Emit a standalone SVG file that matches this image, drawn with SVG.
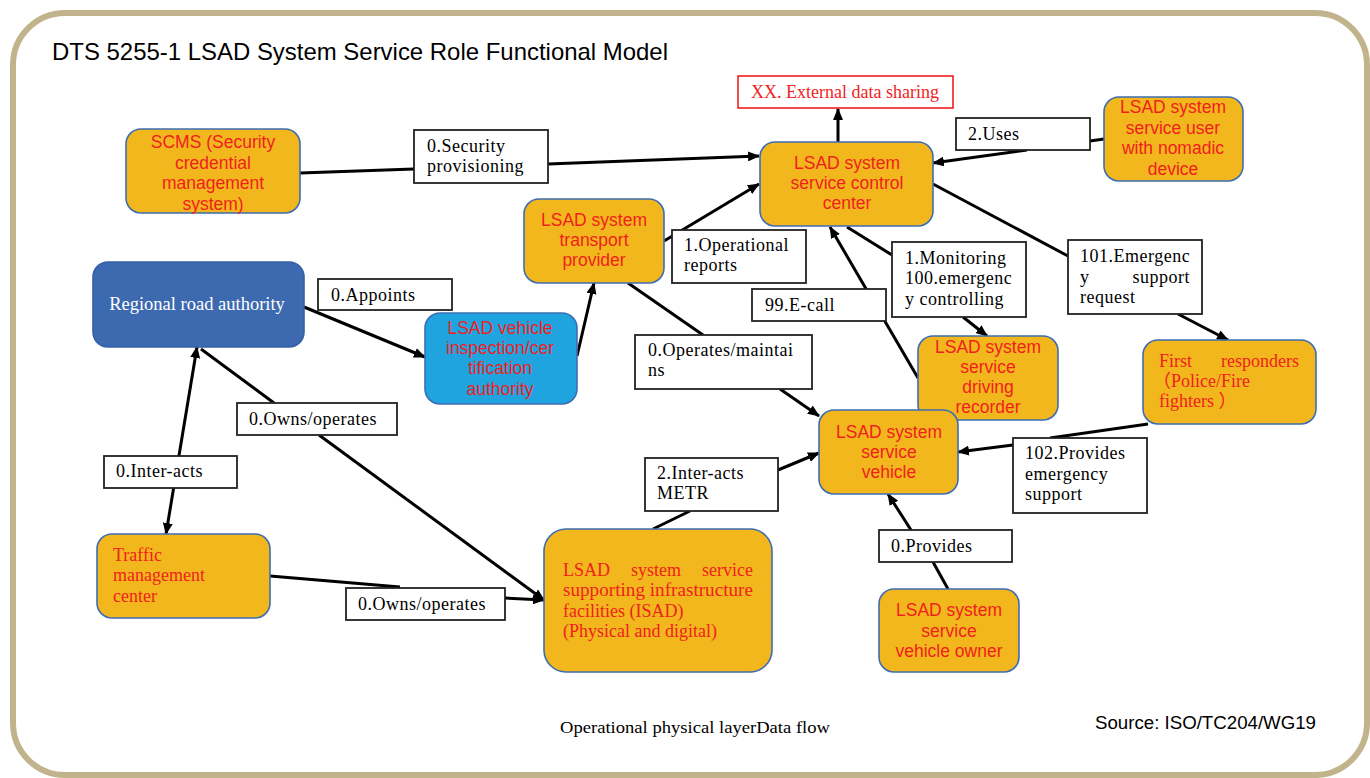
<svg xmlns="http://www.w3.org/2000/svg" width="1370" height="778" viewBox="0 0 1370 778">
<style>
.node{fill:#F2B71C;stroke:#3E6DB3;stroke-width:1.6}
.lbl{fill:#fff;stroke:#222;stroke-width:1.8}
.ln{stroke:#000;stroke-width:3;fill:none}
.s{font-family:"Liberation Sans",Arial,sans-serif;font-size:17.5px;fill:#F01E1E;text-anchor:middle}
.r{font-family:"Liberation Serif","Noto Sans CJK JP",serif;font-size:18px;fill:#F01E1E}
.t{font-family:"Liberation Serif",serif;font-size:18px;letter-spacing:0.5px;fill:#000}
</style>
<defs>
<marker id="arr" viewBox="0 0 12 10" refX="11" refY="5" markerWidth="12" markerHeight="10" orient="auto" markerUnits="userSpaceOnUse"><path d="M0,0 L12,5 L0,10 z" fill="#000"/></marker>
<marker id="arrs" viewBox="0 0 12 10" refX="1" refY="5" markerWidth="12" markerHeight="10" orient="auto" markerUnits="userSpaceOnUse"><path d="M12,0 L0,5 L12,10 z" fill="#000"/></marker>
</defs>
<rect x="0" y="0" width="1370" height="778" fill="#fff"/>
<rect id="frame" x="13" y="13" width="1354" height="762" rx="52" fill="#fff" stroke="#C1B38B" stroke-width="6"/>
<text x="52" y="60" font-family="Liberation Sans,Arial,sans-serif" font-size="24" textLength="616" lengthAdjust="spacingAndGlyphs" fill="#000">DTS 5255-1 LSAD System Service Role Functional Model</text>

<g id="connectors">
<line class="ln" x1="300" y1="173" x2="414" y2="169"/>
<line class="ln" x1="548" y1="164" x2="759" y2="156" marker-end="url(#arr)"/>
<line class="ln" x1="838" y1="142" x2="838" y2="109" marker-end="url(#arr)"/>
<line class="ln" x1="1104" y1="139" x2="1090" y2="141"/>
<line class="ln" x1="1027" y1="150" x2="933" y2="163" marker-end="url(#arr)"/>
<line class="ln" x1="664" y1="241" x2="759" y2="184" marker-end="url(#arr)"/>
<line class="ln" x1="628" y1="283" x2="703" y2="335"/>
<line class="ln" x1="780" y1="389" x2="819" y2="416" marker-end="url(#arr)"/>
<line class="ln" x1="847" y1="227" x2="892" y2="255"/>
<line class="ln" x1="963" y1="317" x2="987" y2="336" marker-end="url(#arr)"/>
<line class="ln" x1="933" y1="184" x2="1068" y2="256"/>
<line class="ln" x1="1178" y1="314" x2="1228" y2="340" marker-end="url(#arr)"/>
<line class="ln" x1="918" y1="378" x2="830" y2="227" marker-end="url(#arr)"/>
<line class="ln" x1="304" y1="307" x2="425" y2="357" marker-end="url(#arr)"/>
<line class="ln" x1="577" y1="356" x2="594" y2="283" marker-end="url(#arr)"/>
<line class="ln" x1="166" y1="534" x2="197" y2="347" marker-start="url(#arrs)" marker-end="url(#arr)"/>
<line class="ln" x1="201" y1="349" x2="274" y2="403"/>
<line class="ln" x1="319" y1="435" x2="544" y2="600" marker-end="url(#arr)"/>
<line class="ln" x1="270" y1="576" x2="400" y2="587"/>
<line class="ln" x1="505" y1="598" x2="544" y2="600" marker-end="url(#arr)"/>
<line class="ln" x1="653" y1="529" x2="690" y2="511"/>
<line class="ln" x1="778" y1="470" x2="819" y2="453" marker-end="url(#arr)"/>
<line class="ln" x1="1148" y1="424" x2="1050" y2="438"/>
<line class="ln" x1="1013" y1="445" x2="958" y2="452" marker-end="url(#arr)"/>
<line class="ln" x1="948" y1="589" x2="933" y2="562"/>
<line class="ln" x1="911" y1="530" x2="888" y2="494" marker-end="url(#arr)"/>

<g id="lbl-security"><rect class="lbl" x="414" y="130" width="134" height="53"/><text class="t" x="427" y="152">0.Security</text><text class="t" x="427" y="172">provisioning</text></g>
<g id="lbl-uses"><rect class="lbl" x="956" y="118" width="134" height="32"/><text class="t" x="968" y="140">2.Uses</text></g>
<g id="lbl-opreports"><rect class="lbl" x="672" y="230" width="134" height="53"/><text class="t" x="684" y="251">1.Operational</text><text class="t" x="684" y="271">reports</text></g>
<g id="lbl-monitoring"><rect class="lbl" x="892" y="242" width="134" height="75"/><text class="t" x="905" y="264">1.Monitoring</text><text class="t" x="905" y="284">100.emergenc</text><text class="t" x="905" y="305">y controlling</text></g>
<g id="lbl-emergency"><rect class="lbl" x="1068" y="240" width="134" height="74"/><text class="t" x="1080" y="262">101.Emergenc</text><text class="t" x="1080" y="283">y</text><text class="t" x="1190" y="283" text-anchor="end">support</text><text class="t" x="1080" y="303">request</text></g>
<g id="lbl-ecall"><rect class="lbl" x="752" y="289" width="134" height="32"/><text class="t" x="765" y="311">99.E-call</text></g>
<g id="lbl-appoints"><rect class="lbl" x="318" y="279" width="134" height="31"/><text class="t" x="331" y="301">0.Appoints</text></g>
<g id="lbl-operates"><rect class="lbl" x="635" y="335" width="177" height="54"/><text class="t" x="648" y="356">0.Operates/maintai</text><text class="t" x="648" y="376">ns</text></g>
<g id="lbl-owns1"><rect class="lbl" x="237" y="403" width="160" height="32"/><text class="t" x="249" y="425">0.Owns/operates</text></g>
<g id="lbl-interacts"><rect class="lbl" x="104" y="456" width="133" height="32"/><text class="t" x="116" y="477">0.Inter-acts</text></g>
<g id="lbl-metr"><rect class="lbl" x="645" y="458" width="133" height="53"/><text class="t" x="657" y="479">2.Inter-acts</text><text class="t" x="657" y="499">METR</text></g>
<g id="lbl-provides-emerg"><rect class="lbl" x="1013" y="438" width="134" height="75"/><text class="t" x="1025" y="459">102.Provides</text><text class="t" x="1025" y="480">emergency</text><text class="t" x="1025" y="500">support</text></g>
<g id="lbl-provides"><rect class="lbl" x="879" y="530" width="133" height="32"/><text class="t" x="891" y="552">0.Provides</text></g>
<g id="lbl-owns2"><rect class="lbl" x="346" y="588" width="159" height="32"/><text class="t" x="358" y="610">0.Owns/operates</text></g>
</g>

<g id="n-external"><rect x="738" y="76" width="215" height="32" fill="#fff" stroke="#F01E1E" stroke-width="1.6"/><text class="r" x="845" y="98" text-anchor="middle">XX. External data sharing</text></g>
<g id="n-scms"><rect class="node" x="126" y="129" width="174" height="84" rx="15"/><text class="s" x="213" y="148">SCMS (Security</text><text class="s" x="213" y="168.5">credential</text><text class="s" x="213" y="189">management</text><text class="s" x="213" y="209.5">system)</text></g>
<g id="n-control"><rect class="node" x="760" y="142" width="173" height="84" rx="15"/><text class="s" x="847" y="169">LSAD system</text><text class="s" x="847" y="189">service control</text><text class="s" x="847" y="209">center</text></g>
<g id="n-user"><rect class="node" x="1104" y="97" width="139" height="84" rx="15"/><text class="s" x="1173" y="113">LSAD system</text><text class="s" x="1173" y="133.7">service user</text><text class="s" x="1173" y="154.3">with nomadic</text><text class="s" x="1173" y="175">device</text></g>
<g id="n-transport"><rect class="node" x="524" y="199" width="140" height="84" rx="15"/><text class="s" x="594" y="226">LSAD system</text><text class="s" x="594" y="246">transport</text><text class="s" x="594" y="266">provider</text></g>
<g id="n-regional"><rect x="93" y="262" width="211" height="85" rx="15" fill="#3D69B1" stroke="#3560A6" stroke-width="1.6"/><text x="197" y="310" font-family="Liberation Serif,serif" font-size="18.5" fill="#fff" text-anchor="middle">Regional road authority</text></g>
<g id="n-inspection"><rect x="425" y="313" width="152" height="91" rx="15" fill="#1FA4DF" stroke="#3E6DB3" stroke-width="1.6"/><text class="s" x="500" y="334">LSAD vehicle</text><text class="s" x="500" y="354">inspection/cer</text><text class="s" x="500" y="374">tification</text><text class="s" x="500" y="395">authority</text></g>
<g id="n-recorder"><rect class="node" x="918" y="336" width="140" height="84" rx="15"/><text class="s" x="988" y="353">LSAD system</text><text class="s" x="988" y="373">service</text><text class="s" x="988" y="393">driving</text><text class="s" x="988" y="413">recorder</text></g>
<g id="n-responders"><rect class="node" x="1143" y="340" width="173" height="84" rx="15"/><text class="r" x="1159" y="367">First</text><text class="r" x="1299" y="367" text-anchor="end">responders</text><text class="r" x="1153" y="387">（Police/Fire</text><text class="r" x="1159" y="407">fighters ）</text></g>
<g id="n-vehicle"><rect class="node" x="819" y="410" width="139" height="84" rx="15"/><text class="s" x="889" y="438">LSAD system</text><text class="s" x="889" y="458">service</text><text class="s" x="889" y="478">vehicle</text></g>
<g id="n-traffic"><rect class="node" x="97" y="534" width="173" height="84" rx="15"/><text class="r" x="113" y="561">Traffic</text><text class="r" x="113" y="581">management</text><text class="r" x="113" y="602">center</text></g>
<g id="n-isad"><rect class="node" x="544" y="529" width="228" height="143" rx="22"/><text class="r" x="563" y="576">LSAD</text><text class="r" x="656" y="576" text-anchor="middle">system</text><text class="r" x="753" y="576" text-anchor="end">service</text><text class="r" x="563" y="596" textLength="190" lengthAdjust="spacingAndGlyphs">supporting infrastructure</text><text class="r" x="563" y="617">facilities (ISAD)</text><text class="r" x="563" y="637">(Physical and digital)</text></g>
<g id="n-owner"><rect class="node" x="879" y="589" width="140" height="83" rx="15"/><text class="s" x="949" y="616">LSAD system</text><text class="s" x="949" y="637">service</text><text class="s" x="949" y="657">vehicle owner</text></g>

<text x="560" y="733" font-family="Liberation Serif,serif" font-size="17" textLength="270" lengthAdjust="spacingAndGlyphs" fill="#000">Operational physical layerData flow</text>
<text x="1095" y="729" font-family="Liberation Sans,Arial,sans-serif" font-size="18" textLength="221" lengthAdjust="spacingAndGlyphs" fill="#000">Source: ISO/TC204/WG19</text>
</svg>
